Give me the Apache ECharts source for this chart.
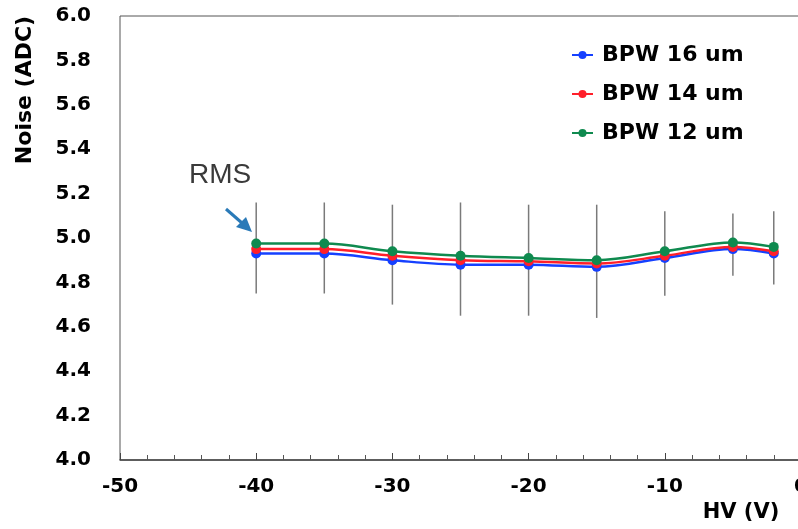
<!DOCTYPE html>
<html>
<head>
<meta charset="utf-8">
<script src="https://cdn.jsdelivr.net/npm/echarts@6/dist/echarts.min.js"></script>
<style>
  html, body { margin: 0; padding: 0; background: #fff; }
  #chart { width: 798px; height: 529px; }
</style>
</head>
<body>
<div id="chart"></div>
<script>
// Bias voltage points (V)
const hv = [-40, -35, -30, -25, -20, -15, -10, -5, -2];

// Mean noise (ADC counts) per BPW width
const bpw16 = [4.93, 4.93, 4.90, 4.88, 4.88, 4.87, 4.91, 4.95, 4.93];
const bpw14 = [4.95, 4.95, 4.92, 4.90, 4.895, 4.885, 4.92, 4.96, 4.94];
const bpw12 = [4.975, 4.975, 4.94, 4.92, 4.91, 4.90, 4.94, 4.98, 4.96];

// RMS spread at each voltage: lower and upper ends
const rmsLow  = [4.75, 4.75, 4.70, 4.65, 4.65, 4.64, 4.74, 4.83, 4.79];
const rmsHigh = [5.16, 5.16, 5.15, 5.16, 5.15, 5.15, 5.12, 5.11, 5.12];

const seriesNames = ['BPW 16 um', 'BPW 14 um', 'BPW 12 um'];
const yTicks = ['4.0', '4.2', '4.4', '4.6', '4.8', '5.0', '5.2', '5.4', '5.6', '5.8', '6.0'];

const pairs = vals => hv.map((x, i) => [x, vals[i]]);
const rmsData = hv.map((x, i) => [x, rmsLow[i], rmsHigh[i]]);

const boldFont = 'DejaVu Sans';
const chart = echarts.init(document.getElementById('chart'));

const lineSeries = (name, vals, color) => ({
  name: name,
  type: 'line',
  data: pairs(vals),
  smooth: 0.35,
  symbol: 'circle',
  symbolSize: 10,
  lineStyle: { color: color, width: 2.5 },
  itemStyle: { color: color },
  z: 3
});

chart.setOption({
  animation: false,
  backgroundColor: '#fff',
  grid: {
    left: 120, right: -3, top: 16, bottom: 69,
    outerBoundsMode: 'none',
    containLabel: false,
    show: true, borderColor: '#555', borderWidth: 1
  },
  legend: {
    data: seriesNames,
    orient: 'vertical',
    left: 566,
    top: 39,
    itemWidth: 21,
    itemHeight: 10,
    itemGap: 17,
    textStyle: {
      fontFamily: boldFont, fontWeight: 'bold', fontSize: 22,
      color: '#000', padding: [0, 0, 0, 4]
    }
  },
  xAxis: {
    type: 'value',
    min: -50, max: 0, interval: 10,
    axisLine: { show: true, lineStyle: { color: '#444', width: 1.5 } },
    axisTick: { show: true, inside: true, length: 7, lineStyle: { color: '#444', width: 1 } },
    minorTick: { show: true, splitNumber: 5, length: 5, lineStyle: { color: '#555', width: 1 } },
    splitLine: { show: false },
    axisLabel: {
      margin: 17,
      fontFamily: boldFont, fontWeight: 'bold', fontSize: 20, color: '#000',
      showMaxLabel: true
    }
  },
  yAxis: {
    type: 'value',
    min: 4, max: 6, interval: 0.2,
    axisLine: { show: true, lineStyle: { color: '#444', width: 1.5 } },
    axisTick: { show: true, inside: true, length: 8, lineStyle: { color: '#444', width: 1 } },
    minorTick: { show: true, splitNumber: 5, length: 6, lineStyle: { color: '#555', width: 1 } },
    splitLine: { show: false },
    axisLabel: {
      margin: 29,
      fontFamily: boldFont, fontWeight: 'bold', fontSize: 20, color: '#000',
      formatter: v => yTicks[Math.round((v - 4) / 0.2)]
    }
  },
  series: [
    {
      name: 'RMS',
      type: 'custom',
      data: rmsData,
      encode: { x: 0, y: [1, 2] },
      z: 1,
      renderItem: (params, api) => {
        const p1 = api.coord([api.value(0), api.value(1)]);
        const p2 = api.coord([api.value(0), api.value(2)]);
        return {
          type: 'line',
          shape: { x1: p1[0], y1: p1[1], x2: p2[0], y2: p2[1] },
          style: { stroke: '#7a7a7a', lineWidth: 1.5 }
        };
      }
    },
    lineSeries(seriesNames[0], bpw16, '#1540ff'),
    lineSeries(seriesNames[1], bpw14, '#ff1f2a'),
    lineSeries(seriesNames[2], bpw12, '#0f8a4f')
  ],
  graphic: [
    {
      type: 'text',
      x: 25, y: 90,
      rotation: Math.PI / 2,
      style: {
        text: 'Noise (ADC)',
        font: 'bold 22px "DejaVu Sans"',
        fill: '#000',
        align: 'center',
        verticalAlign: 'middle'
      }
    },
    {
      type: 'text',
      x: 741, y: 513,
      style: {
        text: 'HV (V)',
        font: 'bold 21px "DejaVu Sans"',
        fill: '#000',
        align: 'center',
        verticalAlign: 'middle'
      }
    },
    {
      type: 'text',
      x: 189, y: 175,
      style: {
        text: 'RMS',
        font: '300 28px "Liberation Sans"',
        fill: '#3a3a3a',
        align: 'left',
        verticalAlign: 'middle'
      }
    },
    {
      type: 'line',
      shape: { x1: 226, y1: 209, x2: 242, y2: 223 },
      style: { stroke: '#2a7ab8', lineWidth: 3 }
    },
    {
      type: 'polygon',
      shape: { points: [[252, 232], [236, 227], [246, 217]] },
      style: { fill: '#2a7ab8' }
    }
  ]
});
</script>
</body>
</html>
